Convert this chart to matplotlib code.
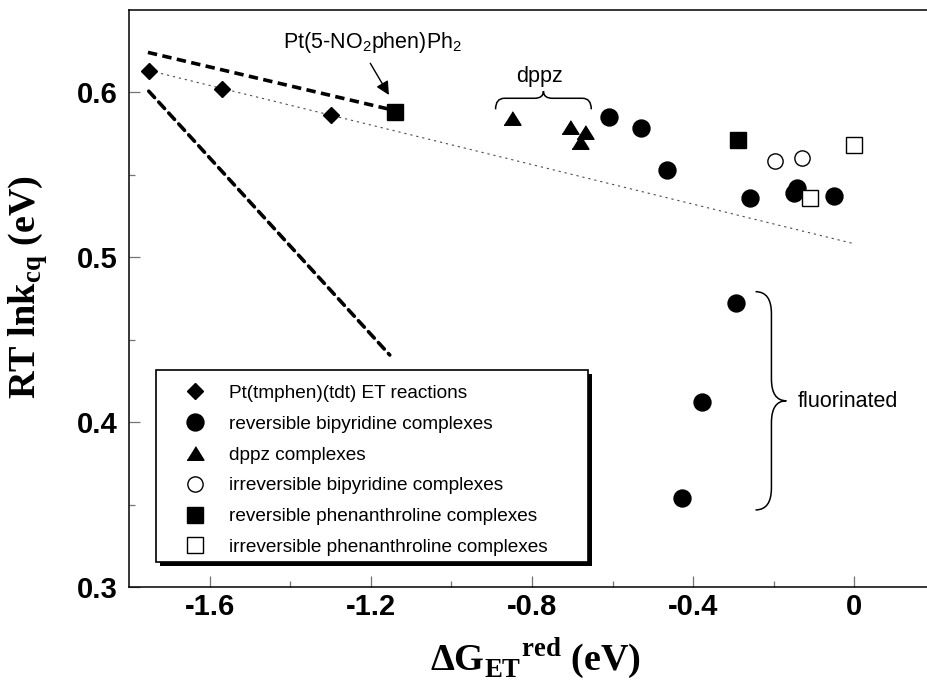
import matplotlib
matplotlib.use("Agg")
import matplotlib.pyplot as plt
from matplotlib.path import Path
from matplotlib.patches import PathPatch, Rectangle
from matplotlib.lines import Line2D
from matplotlib.ticker import FixedLocator

plt.rcParams['font.family'] = ['Liberation Sans', 'DejaVu Sans']
plt.rcParams['mathtext.fontset'] = 'custom'
plt.rcParams['mathtext.rm'] = 'Liberation Sans'
plt.rcParams['mathtext.bf'] = 'Liberation Serif:bold'
plt.rcParams['axes.unicode_minus'] = False

# ---- data -------------------------------------------------------------
pt_tmphen_x = [-1.75, -1.57, -1.30]
pt_tmphen_y = [0.613, 0.602, 0.586]

rev_bpy_x = [-0.609, -0.529, -0.465, -0.260, -0.142, -0.150, -0.051, -0.293, -0.379, -0.429]
rev_bpy_y = [0.585, 0.578, 0.553, 0.536, 0.542, 0.539, 0.537, 0.472, 0.412, 0.354]

dppz_x = [-0.850, -0.705, -0.668, -0.682]
dppz_y = [0.584, 0.579, 0.576, 0.570]

irr_bpy_x = [-0.198, -0.131]
irr_bpy_y = [0.558, 0.560]

rev_phen_x = [-1.140, -0.289]
rev_phen_y = [0.588, 0.571]

irr_phen_x = [0.000, -0.111]
irr_phen_y = [0.568, 0.536]

# straight-line fit through the Pt(tmphen)(tdt) series
fit_x = [-1.75, 0.0]
fit_y = [0.613, 0.508]

# dashed guide lines
guide_upper_x = [-1.753, -1.153]
guide_upper_y = [0.624, 0.5895]
guide_lower_x = [-1.751, -1.153]
guide_lower_y = [0.6005, 0.4406]

x_ticks = [-1.6, -1.2, -0.8, -0.4, 0.0]
x_tick_labels = ['-1.6', '-1.2', '-0.8', '-0.4', '0']
x_minor = [-1.4, -1.0, -0.6, -0.2]
y_ticks = [0.3, 0.4, 0.5, 0.6]
y_tick_labels = ['0.3', '0.4', '0.5', '0.6']
y_minor = [0.35, 0.45, 0.55]

legend_labels = ['Pt(tmphen)(tdt) ET reactions',
                 'reversible bipyridine complexes',
                 'dppz complexes',
                 'irreversible bipyridine complexes',
                 'reversible phenanthroline complexes',
                 'irreversible phenanthroline complexes']

# ---- figure / axes ----------------------------------------------------
W, H = 927, 685
fig = plt.figure(figsize=(W / 100, H / 100), dpi=100)
px_l, px_r, px_t, px_b = 129, 927, 9.5, 587
ax = fig.add_axes([px_l / W, 1 - px_b / H, (px_r - px_l) / W, (px_b - px_t) / H])
ax.set_xlim(-1.8, 0.18)
ax.set_ylim(0.3, 0.65)

def ax_fx(px):
    return (px - px_l) / (px_r - px_l)

def ax_fy(py):
    return (px_b - py) / (px_b - px_t)

for s in ['left', 'bottom', 'top']:
    ax.spines[s].set_linewidth(1.1)
ax.spines['right'].set_visible(False)

ax.xaxis.set_major_locator(FixedLocator(x_ticks))
ax.set_xticklabels(x_tick_labels)
ax.xaxis.set_minor_locator(FixedLocator(x_minor))
ax.yaxis.set_major_locator(FixedLocator(y_ticks))
ax.set_yticklabels(y_tick_labels)
ax.yaxis.set_minor_locator(FixedLocator(y_minor))
ax.tick_params(which='both', direction='in', color='0.45', width=0.9, top=False, right=False)
ax.tick_params(which='major', length=7.7)
ax.tick_params(which='minor', length=4.0)
ax.tick_params(axis='x', which='major', pad=4.5, labelsize=21)
ax.tick_params(axis='y', which='major', pad=8.5, labelsize=21)
for lab in ax.get_xticklabels() + ax.get_yticklabels():
    lab.set_fontweight('bold')

# ---- lines ------------------------------------------------------------
ax.plot(fit_x, fit_y, color='0.3', lw=0.8, ls=(0, (2.0, 3.5)), zorder=2)
ax.plot(guide_upper_x, guide_upper_y, color='k', lw=2.6, ls=(0, (2.6, 1.5)), zorder=2)
ax.plot(guide_lower_x, guide_lower_y, color='k', lw=2.6, ls=(0, (2.4, 1.7)),
        dash_capstyle='round', zorder=2)

# ---- markers ----------------------------------------------------------
tri = [(-1, -0.8), (1, -0.8), (0, 0.8)]
ax.plot(pt_tmphen_x, pt_tmphen_y, ls='none', marker='D', ms=8, color='k', zorder=3)
ax.plot(rev_bpy_x, rev_bpy_y, ls='none', marker='o', ms=12.2, color='k', zorder=3)
ax.plot(dppz_x, dppz_y, ls='none', marker=tri, ms=12.2, color='k', zorder=3)
ax.plot(irr_bpy_x, irr_bpy_y, ls='none', marker='o', ms=11, mfc='white', mec='k', mew=1.0, zorder=3)
ax.plot(rev_phen_x, rev_phen_y, ls='none', marker='s', ms=12.2, color='k', zorder=3)
ax.plot(irr_phen_x, irr_phen_y, ls='none', marker='s', ms=11.5, mfc='white', mec='k', mew=1.0, zorder=3)

# ---- braces -----------------------------------------------------------
M, C, L = Path.MOVETO, Path.CURVE3, Path.LINETO

def vbrace(x_end, x_stem, x_tip, y_top, y_bot, ry):
    y_mid = (y_top + y_bot) / 2
    verts = [(x_end, y_top), (x_stem, y_top), (x_stem, y_top - ry),
             (x_stem, y_mid + ry), (x_stem, y_mid), (x_tip, y_mid),
             (x_stem, y_mid), (x_stem, y_mid - ry),
             (x_stem, y_bot + ry), (x_stem, y_bot), (x_end, y_bot)]
    codes = [M, C, C, L, C, C, C, C, L, C, C]
    return Path(verts, codes)

def hbrace(x_left, x_right, x_tip, y_end, y_stem, y_tip, rx):
    verts = [(x_left, y_end), (x_left, y_stem), (x_left + rx, y_stem),
             (x_tip - rx, y_stem), (x_tip, y_stem), (x_tip, y_tip),
             (x_tip, y_stem), (x_tip + rx, y_stem),
             (x_right - rx, y_stem), (x_right, y_stem), (x_right, y_end)]
    codes = [M, C, C, L, C, C, C, C, L, C, C]
    return Path(verts, codes)

ax.add_patch(PathPatch(vbrace(-0.2455, -0.206, -0.169, 0.479, 0.3467, 0.0133),
                       fc='none', ec='k', lw=1.1, zorder=2))
ax.text(-0.141, 0.4123, 'fluorinated', ha='left', va='center', fontsize=15.5)

ax.add_patch(PathPatch(hbrace(-0.8905, -0.653, -0.7717, 0.5895, 0.5962, 0.6005, 0.022),
                       fc='none', ec='k', lw=1.1, zorder=2))
ax.text(-0.781, 0.6095, 'dppz', ha='center', va='center', fontsize=15.5)

ax.text(-1.1956, 0.6297, 'Pt(5-NO$_2$phen)Ph$_2$', ha='center', va='center', fontsize=15.5)
ax.annotate('', xy=(-1.1551, 0.5982), xytext=(-1.2013, 0.6174),
            arrowprops=dict(arrowstyle='-|>', color='k', lw=1.0, mutation_scale=20,
                            shrinkA=0, shrinkB=0))

# ---- legend with drop-shadow frame -----------------------------------
lx0, lx1 = ax_fx(155.7), ax_fx(588)
ly0, ly1 = ax_fy(562), ax_fy(370.3)
dx, dy = 4 / (px_r - px_l), 4 / (px_b - px_t)
ax.add_patch(Rectangle((lx0 + dx, ly0 - dy), lx1 - lx0, ly1 - ly0, transform=ax.transAxes,
                       fc='k', ec='k', lw=0, zorder=4))
ax.add_patch(Rectangle((lx0, ly0), lx1 - lx0, ly1 - ly0, transform=ax.transAxes,
                       fc='white', ec='k', lw=1.2, zorder=4.1))

handles = [
    Line2D([], [], ls='none', marker='D', ms=8, color='k'),
    Line2D([], [], ls='none', marker='o', ms=12.2, color='k'),
    Line2D([], [], ls='none', marker=tri, ms=12.2, color='k'),
    Line2D([], [], ls='none', marker='o', ms=11, mfc='white', mec='k', mew=1.0),
    Line2D([], [], ls='none', marker='s', ms=12.2, color='k'),
    Line2D([], [], ls='none', marker='s', ms=11.5, mfc='white', mec='k', mew=1.0),
]
leg = ax.legend(handles, legend_labels, loc='upper left', bbox_to_anchor=(lx0, ly1),
                bbox_transform=ax.transAxes, frameon=False, borderaxespad=0,
                borderpad=0.75, handlelength=2.6, handletextpad=0.52,
                labelspacing=0.71, fontsize=13.7)
leg.set_zorder(5)

# ---- axis titles ------------------------------------------------------
serif = dict(family=['Liberation Serif', 'DejaVu Serif'], weight='bold', size=27.5)
fig.text(430 / W, 14 / H, 'ΔG$_{\\mathbf{ET}}{}^{\\mathbf{red}}$ (eV)', ha='left', va='baseline', **serif)
fig.text(28 / W, 1 - 287 / H, 'RT lnk$_{\\mathbf{cq}}$ (eV)', rotation=90,
         ha='center', va='center', **serif)

fig.savefig('out.png', dpi=100)
